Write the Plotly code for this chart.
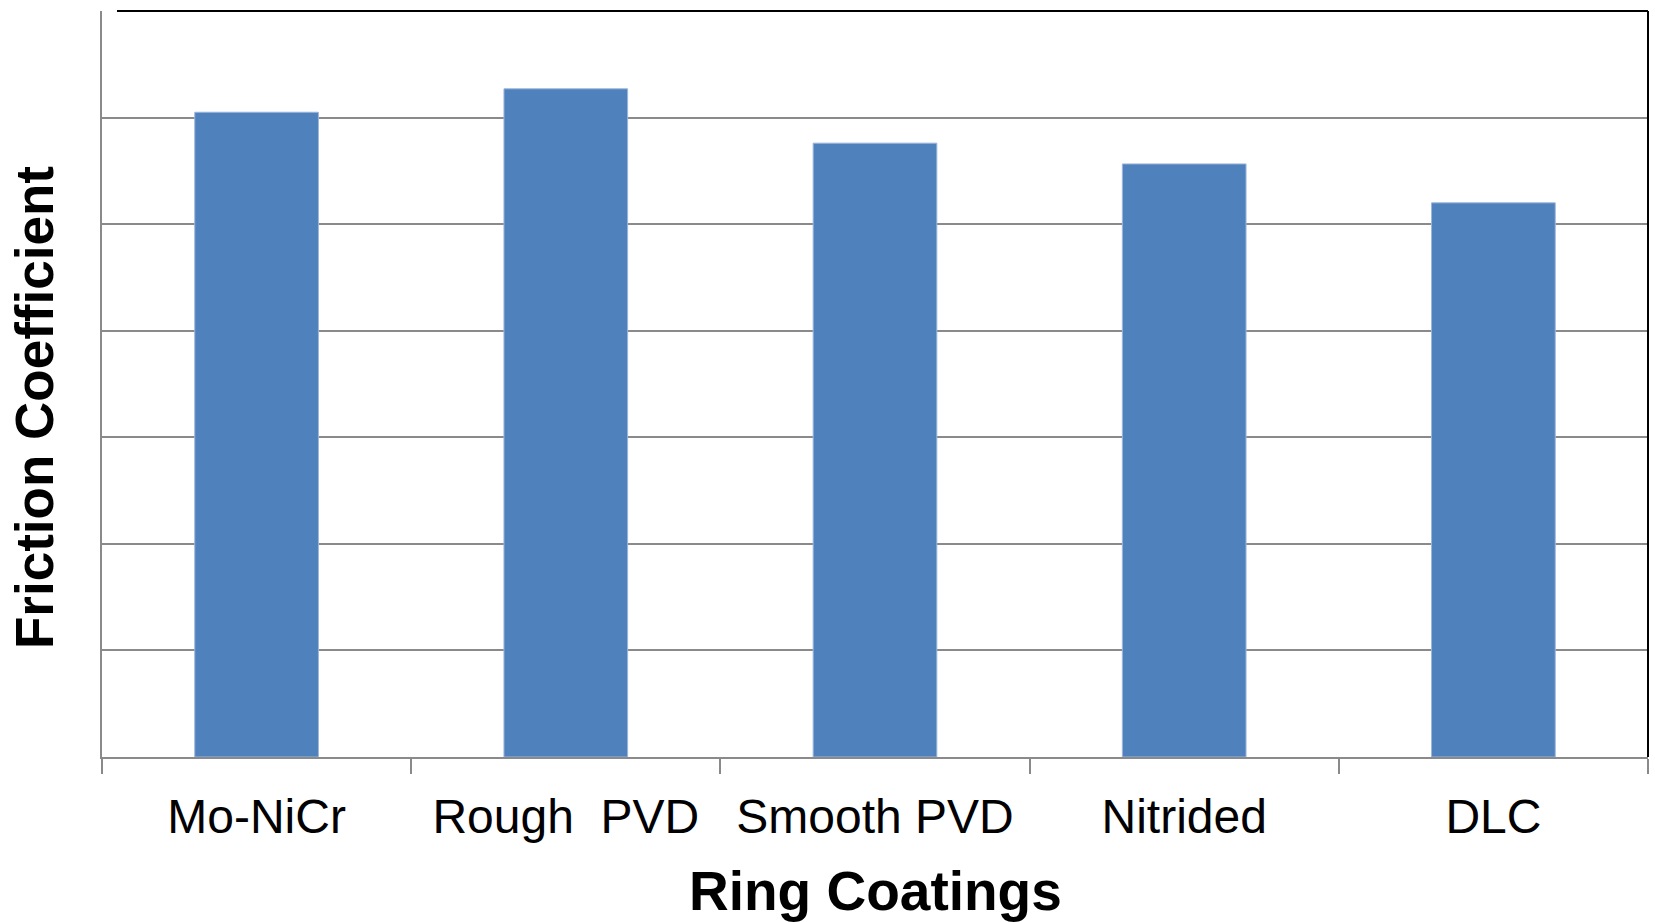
import plotly.graph_objects as go

# Ring coating friction results
coatings = ["Mo-NiCr", "Rough  PVD", "Smooth PVD", "Nitrided", "DLC"]
friction = [0.121, 0.1254, 0.1152, 0.1113, 0.104]

W, H = 1655, 922
L, R, T, B = 102, 7, 11, 165
plot_w = W - L - R
plot_h = H - T - B

FONT = "Liberation Sans, Arial, sans-serif"
GRID = "#8a8a8a"

fig = go.Figure(
    go.Bar(
        x=coatings,
        y=friction,
        marker=dict(color="#4F81BD", line=dict(color="#9cb6dc", width=1)),
        width=0.4,
    )
)

fig.update_layout(
    width=W,
    height=H,
    margin=dict(l=L, r=R, t=T, b=B, pad=0),
    paper_bgcolor="white",
    plot_bgcolor="white",
    showlegend=False,
    font=dict(family=FONT, color="black"),
)

fig.update_xaxes(
    type="category",
    showline=True,
    linecolor=GRID,
    linewidth=2,
    ticks="outside",
    tickson="boundaries",
    ticklen=15,
    tickwidth=2,
    tickcolor=GRID,
    ticklabelstandoff=16,
    tickfont=dict(size=48, family=FONT, color="black"),
    showgrid=False,
)

fig.update_yaxes(
    range=[0, 0.14],
    dtick=0.02,
    showticklabels=False,
    showgrid=True,
    gridcolor=GRID,
    gridwidth=2,
    showline=True,
    linecolor=GRID,
    linewidth=2,
    zeroline=False,
    ticks="",
)

# dark frame on the top and right edges of the plot area
fig.add_shape(type="line", xref="paper", yref="paper", x0=15 / plot_w, x1=1, y0=1, y1=1,
              line=dict(color="black", width=2))
fig.add_shape(type="line", xref="paper", yref="paper", x0=1, x1=1, y0=0, y1=1,
              line=dict(color="black", width=2))

# axis titles
fig.add_annotation(
    text="<b>Ring Coatings</b>", xref="paper", yref="paper",
    x=0.5, y=(757 - 891) / plot_h, xanchor="center", yanchor="middle",
    showarrow=False, font=dict(size=55, family=FONT, color="black"),
)
fig.add_annotation(
    text="<b>Friction Coefficient</b>", xref="paper", yref="paper",
    x=(34 - L) / plot_w, y=(757 - 408) / plot_h, xanchor="center", yanchor="middle",
    textangle=-90, showarrow=False, font=dict(size=53, family=FONT, color="black"),
)

fig.write_html("out.html")
